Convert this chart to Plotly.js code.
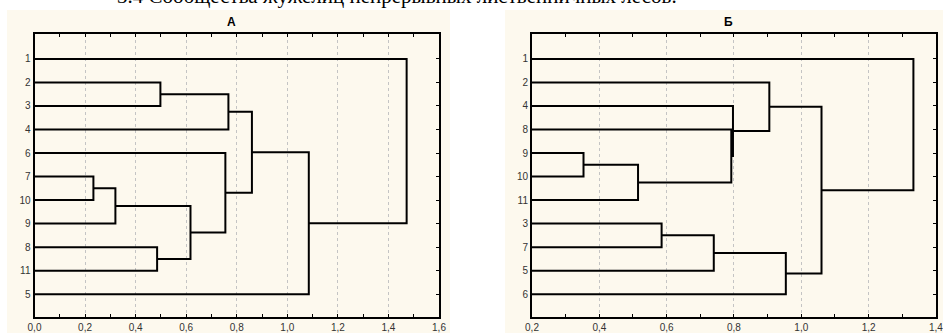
<!DOCTYPE html>
<html>
<head>
<meta charset="utf-8">
<script src="https://cdn.plot.ly/plotly-3.0.1.min.js"></script>
<style>html,body{margin:0;padding:0;background:#fff;}#chart{width:943px;height:333px;}</style>
</head>
<body>
<div id="chart"></div>
<script>
// ---- Data ----
const pageTitle = '3.4 Сообщества жужелиц непрерывных лиственничных лесов.';
const panelTitleA = 'А';
const panelTitleB = 'Б';

// Panel A: leaf order (top to bottom) and merges (child, child, linkage distance)
const leavesA = ['1','2','3','4','6','7','10','9','8','11','5'];
const leftA   = ['7','c0','8','2','c1','6','c3','c6','c7','1'];
const rightA  = ['10','9','11','3','c2','c4','4','c5','5','c8'];
const heightA = [0.233,0.32,0.485,0.498,0.617,0.755,0.767,0.86,1.085,1.472];

// Panel B
const leavesB = ['1','2','4','8','9','10','11','3','7','5','6'];
const leftB   = ['9','c0','3','c2','8','4','2','c3','c6','1'];
const rightB  = ['10','11','7','5','c1','c4','c5','6','c7','c8'];
const heightB = [0.353,0.515,0.585,0.740,0.792,0.797,0.905,0.954,1.060,1.333];

// ---- Build dendrogram paths ----
function build(leaves, L, R, H){
  const pos = {}, ht = {};
  leaves.forEach((l,i)=>{ pos[l] = i+1; ht[l] = 0; });
  const xs = [], ys = [];
  for (let k=0; k<H.length; k++){
    const a = L[k], b = R[k];
    xs.push(ht[a], H[k], H[k], ht[b], null);
    ys.push(pos[a], pos[a], pos[b], pos[b], null);
    pos['c'+k] = (pos[a]+pos[b])/2;
    ht['c'+k] = H[k];
  }
  return {xs, ys};
}
const dA = build(leavesA, leftA, rightA, heightA);
const dB = build(leavesB, leftB, rightB, heightB);

const W = 943, Hh = 333;
const px = v => v / W;
const py = v => 1 - v / Hh;

const lineStyle = {color:'#000', width:2};
const traces = [
  {x:dA.xs, y:dA.ys, xaxis:'x', yaxis:'y', mode:'lines', line:lineStyle, hoverinfo:'skip', showlegend:false},
  {x:dB.xs, y:dB.ys, xaxis:'x2', yaxis:'y2', mode:'lines', line:lineStyle, hoverinfo:'skip', showlegend:false}
];

const tickFont = {family:'Liberation Sans, Arial, sans-serif', size:10, color:'#333'};
const ydom = [py(317), py(34)];
function xax(domain, range){
  return {
    domain, range, dtick:0.2, tick0:0, tickformat:'.1f',
    showgrid:true, gridcolor:'#c4c4c4', griddash:'3px,3px', gridwidth:1,
    zeroline:false, showline:true, linecolor:'#000', linewidth:2, mirror:'ticks',
    ticks:'inside', ticklen:3, tickcolor:'#000', tickwidth:1,
    minor:{dtick:0.1, ticks:'inside', ticklen:3, tickcolor:'#000', tickwidth:1, showgrid:false},
    tickfont:tickFont, ticklabeloverflow:'allow', fixedrange:true
  };
}
function yax(domain, leaves, anchor){
  return {
    domain, range:[11.97,-0.06], tickvals:leaves.map((l,i)=>i+1), ticktext:leaves,
    showgrid:false, zeroline:false, showline:true, linecolor:'#000', linewidth:2, mirror:'ticks',
    ticks:'inside', ticklen:3, tickcolor:'#000', tickwidth:1, anchor,
    tickfont:tickFont, fixedrange:true
  };
}

const cream = '#fdf9ee';
const layout = {
  width:W, height:Hh, margin:{l:0,r:0,t:0,b:0,pad:0},
  paper_bgcolor:'#fff', plot_bgcolor:'#fff',
  separators:', ',
  xaxis: Object.assign(xax([px(34.5), px(439)], [0,1.6]), {anchor:'y'}),
  yaxis: yax(ydom, leavesA, 'x'),
  xaxis2: Object.assign(xax([px(532), px(936)], [0.2,1.4001]), {anchor:'y2'}),
  yaxis2: yax(ydom, leavesB, 'x2'),
  shapes:[
    {type:'rect', xref:'paper', yref:'paper', x0:px(7), x1:px(450), y0:0, y1:py(10), fillcolor:cream, line:{width:0}, layer:'below'},
    {type:'rect', xref:'paper', yref:'paper', x0:px(505), x1:1, y0:0, y1:py(10), fillcolor:cream, line:{width:0}, layer:'below'}
  ],
  annotations:[
    {text:pageTitle, xref:'paper', yref:'paper', x:px(115), y:py(-3.5), xanchor:'left', yanchor:'middle', showarrow:false,
     font:{family:'Liberation Serif, Times New Roman, serif', size:21, color:'#000'}},
    {text:'<b>'+panelTitleA+'</b>', xref:'paper', yref:'paper', x:px(231), y:py(22), xanchor:'center', yanchor:'middle', showarrow:false,
     font:{family:'Liberation Sans, Arial, sans-serif', size:12, color:'#000'}},
    {text:'<b>'+panelTitleB+'</b>', xref:'paper', yref:'paper', x:px(728), y:py(22), xanchor:'center', yanchor:'middle', showarrow:false,
     font:{family:'Liberation Sans, Arial, sans-serif', size:12, color:'#000'}}
  ]
};

Plotly.newPlot('chart', traces, layout, {staticPlot:true, displayModeBar:false});
</script>
</body>
</html>
